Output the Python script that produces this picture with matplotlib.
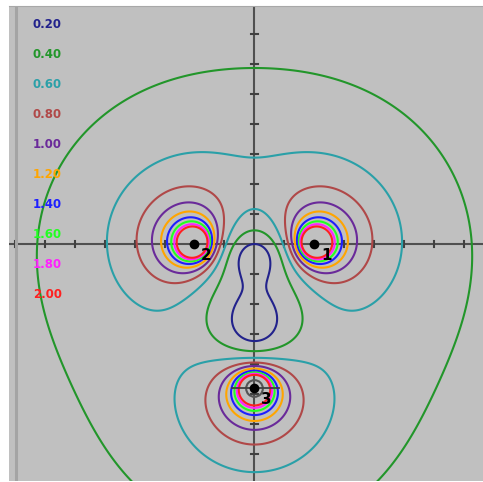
import numpy as np
import matplotlib.pyplot as plt

# charges (x, y, q) in grid units
charge_x = [2.0, -2.0, 0.0]
charge_y = [0.0, 0.0, -4.8]
charge_q = [1.0, 1.0, 1.0]
charge_names = ["1", "2", "3"]

levels = [0.20, 0.40, 0.60, 0.80, 1.00, 1.20, 1.40, 1.60, 1.80, 2.00]
level_colors = ["#22228c", "#22962a", "#2aa0a8", "#b04848", "#6a2a9a",
                "#ffa500", "#1e1eff", "#22ff22", "#ff22ff", "#ff2020"]

W, H = 483, 482
ox, oy, s = 254.5, 243.5, 30.0  # origin pixel and px per unit

fig = plt.figure(figsize=(W / 100, H / 100), dpi=100)
fig.patch.set_facecolor("white")
ax = fig.add_axes([9 / W, 1 - 481 / H, (W - 9) / W, (481 - 6) / H])
ax.set_facecolor("#c0c0c0")
ax.set_xlim((9 - ox) / s, (W - ox) / s)
ax.set_ylim((oy - 481) / s, (oy - 6) / s)
for sp in ax.spines.values():
    sp.set_visible(False)
ax.spines["top"].set_visible(True)
ax.spines["top"].set_color("#a8a8a8")
ax.set_xticks([])
ax.set_yticks([])

# left dark strip
ax.axvline((15.5 - ox) / s, color="#a4a4a4", lw=2.2)

# field magnitude of 2D line charges
x = np.linspace(-8.5, 8, 800)
y = np.linspace(-8.5, 8.5, 800)
X, Y = np.meshgrid(x, y)
Ex = np.zeros_like(X)
Ey = np.zeros_like(X)
for cx, cy, q in zip(charge_x, charge_y, charge_q):
    dx, dy = X - cx, Y - cy
    r2 = dx ** 2 + dy ** 2 + 1e-9
    Ex += q * dx / r2
    Ey += q * dy / r2
E = np.hypot(Ex, Ey)

# axes lines and ticks
ax.axhline(0, color="#505050", lw=1.5, zorder=1)
ax.axvline(0, color="#505050", lw=1.5, zorder=1)
tl = 3 / s
for k in range(-8, 9):
    if k == 0:
        continue
    ax.plot([k, k], [-tl, tl], color="#404040", lw=1.5, zorder=1)
    ax.plot([-tl, tl], [k, k], color="#404040", lw=1.5, zorder=1)

ax.contour(X, Y, E, levels=levels, colors=level_colors, linewidths=1.5, zorder=2)

# charges
for cx, cy, name in zip(charge_x, charge_y, charge_names):
    ax.plot(cx, cy, "o", color="black", ms=6, zorder=5)
    ax.text(cx + 12 / s, cy - 12 / s, name, fontsize=11, fontweight="bold",
            ha="center", va="center", zorder=6)

# selection marker on charge 3
ax.plot(charge_x[2], charge_y[2], "o", mfc="none", mec="#555555", ms=12, mew=1.5, zorder=4)
ax.plot([charge_x[2] - 22 / s, charge_x[2] + 24 / s], [charge_y[2]] * 2,
        color="#404040", lw=1.3, zorder=4)

# legend texts
for i, (lev, col) in enumerate(zip(levels, level_colors)):
    ax.text((33 - ox) / s, (oy - (25 + 30 * i)) / s, f"{lev:.2f}", color=col,
            fontsize=8.5, fontweight="bold", ha="left", va="center", zorder=6)

fig.savefig("out.png", dpi=100)
